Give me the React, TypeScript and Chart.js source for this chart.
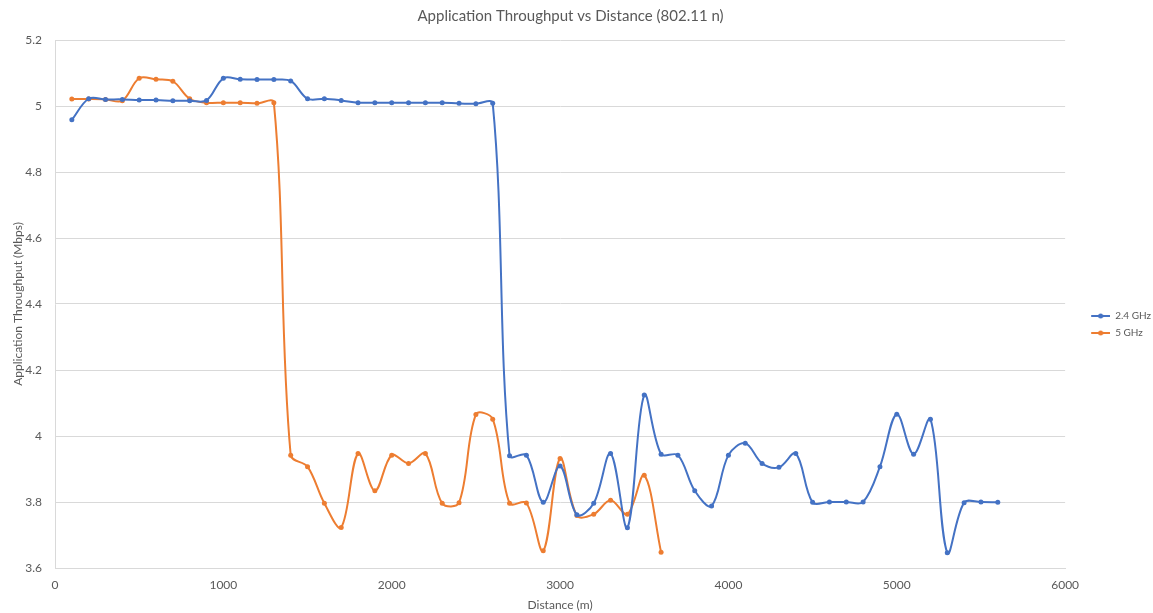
import { useEffect, useRef } from "react";
import { Chart, registerables } from "chart.js";

Chart.register(...registerables);

const chartTitle = "Application Throughput vs Distance (802.11 n)";
const xAxisTitle = "Distance (m)";
const yAxisTitle = "Application Throughput (Mbps)";
const seriesNames = ["2.4 GHz", "5 GHz"];
const seriesColors = ["#4472C4", "#ED7D31"];

const distance24 = [
  100, 200, 300, 400, 500, 600, 700, 800, 900, 1000,
  1100, 1200, 1300, 1400, 1500, 1600, 1700, 1800, 1900, 2000,
  2100, 2200, 2300, 2400, 2500, 2600, 2700, 2800, 2900, 3000,
  3100, 3200, 3300, 3400, 3500, 3600, 3700, 3800, 3900, 4000,
  4100, 4200, 4300, 4400, 4500, 4600, 4700, 4800, 4900, 5000,
  5100, 5200, 5300, 5400, 5500, 5600,
];
const throughput24 = [
  4.958, 5.022, 5.02, 5.02, 5.018, 5.018, 5.016, 5.016, 5.017, 5.084,
  5.081, 5.08, 5.08, 5.076, 5.022, 5.022, 5.017, 5.01, 5.01, 5.01,
  5.01, 5.01, 5.01, 5.008, 5.007, 5.008, 3.94, 3.942, 3.799, 3.909,
  3.761, 3.796, 3.947, 3.722, 4.124, 3.945, 3.942, 3.834, 3.788, 3.942,
  3.978, 3.917, 3.905, 3.947, 3.799, 3.8, 3.8, 3.8, 3.907, 4.066,
  3.945, 4.051, 3.646, 3.798, 3.8, 3.799,
];

const distance5 = [
  100, 200, 300, 400, 500, 600, 700, 800, 900, 1000,
  1100, 1200, 1300, 1400, 1500, 1600, 1700, 1800, 1900, 2000,
  2100, 2200, 2300, 2400, 2500, 2600, 2700, 2800, 2900, 3000,
  3100, 3200, 3300, 3400, 3500, 3600,
];
const throughput5 = [
  5.021, 5.021, 5.02, 5.016, 5.084, 5.081, 5.075, 5.022, 5.01, 5.01,
  5.01, 5.008, 5.01, 3.942, 3.907, 3.796, 3.723, 3.947, 3.834, 3.942,
  3.917, 3.947, 3.796, 3.798, 4.065, 4.051, 3.796, 3.797, 3.652, 3.932,
  3.759, 3.763, 3.805, 3.763, 3.881, 3.648,
];

const xMin = 0;
const xMax = 6000;
const xStep = 1000;
const yMin = 3.6;
const yMax = 5.2;
const yStep = 0.2;

const textColor = "#595959";
const gridColor = "#d9d9d9";
const fontFamily = "Lato, 'Open Sans', sans-serif";

function legendMarker(color: string): HTMLCanvasElement {
  const c = document.createElement("canvas");
  c.width = 38;
  c.height = 8;
  const ctx = c.getContext("2d")!;
  ctx.strokeStyle = color;
  ctx.lineWidth = 2;
  ctx.beginPath();
  ctx.moveTo(19, 4);
  ctx.lineTo(38, 4);
  ctx.stroke();
  ctx.fillStyle = color;
  ctx.beginPath();
  ctx.arc(28.5, 4, 2.5, 0, Math.PI * 2);
  ctx.fill();
  return c;
}

export default function App() {
  const canvasRef = useRef<HTMLCanvasElement | null>(null);

  useEffect(() => {
    document.body.style.margin = "0";
    const canvas = canvasRef.current;
    if (!canvas) return;
    const markers = seriesColors.map((c) => legendMarker(c));

    const makeSeries = (xs: number[], ys: number[]) =>
      xs.map((x, i) => ({ x, y: ys[i] }));

    const chart = new Chart(canvas, {
      type: "line",
      data: {
        datasets: [
          {
            label: seriesNames[0],
            data: makeSeries(distance24, throughput24),
            borderColor: seriesColors[0],
            backgroundColor: seriesColors[0],
            borderWidth: 2,
            pointRadius: 2.5,
            pointBorderWidth: 0,
            pointStyle: "circle",
            tension: 0.35,
            fill: false,
          },
          {
            label: seriesNames[1],
            data: makeSeries(distance5, throughput5),
            borderColor: seriesColors[1],
            backgroundColor: seriesColors[1],
            borderWidth: 2,
            pointRadius: 2.5,
            pointBorderWidth: 0,
            pointStyle: "circle",
            tension: 0.35,
            fill: false,
          },
        ],
      },
      options: {
        responsive: false,
        animation: false,
        layout: { padding: { left: -20, right: -8, top: 0, bottom: 0 } },
        plugins: {
          title: {
            display: true,
            text: chartTitle,
            color: textColor,
            font: { family: fontFamily, size: 15, weight: "normal" },
            padding: { top: 7, bottom: 15 },
          },
          legend: {
            display: true,
            position: "right",
            align: "center",
            title: {
              display: true,
              text: " ",
              color: "rgba(0,0,0,0)",
              font: { family: fontFamily, size: 10 },
              padding: { top: 24, bottom: 0 },
            },
            labels: {
              color: textColor,
              font: { family: fontFamily, size: 10 },
              usePointStyle: true,
              pointStyleWidth: 38,
              padding: 7,
              generateLabels: (ch: any) =>
                ch.data.datasets.map((ds: any, i: number) => ({
                  text: ds.label,
                  fontColor: textColor,
                  pointStyle: markers[i],
                  fillStyle: seriesColors[i],
                  strokeStyle: seriesColors[i],
                  lineWidth: 0,
                  hidden: false,
                  datasetIndex: i,
                })),
            },
          },
          tooltip: { enabled: false },
        },
        scales: {
          x: {
            type: "linear",
            min: xMin,
            max: xMax,
            afterFit: (scale: any) => {
              scale.height = 45;
            },
            ticks: {
              stepSize: xStep,
              color: textColor,
              padding: 10,
              maxRotation: 0,
              font: { family: fontFamily, size: 12 },
              callback: (v: any) => String(v),
            },
            grid: { display: false, drawTicks: false },
            border: { display: true, color: gridColor, width: 1 },
            title: {
              display: true,
              text: xAxisTitle,
              color: textColor,
              font: { family: fontFamily, size: 12 },
              padding: { top: 0, bottom: 1 },
            },
          },
          y: {
            type: "linear",
            min: yMin,
            max: yMax,
            afterFit: (scale: any) => {
              scale.width = 75;
            },
            ticks: {
              stepSize: yStep,
              color: textColor,
              padding: 13,
              font: { family: fontFamily, size: 12 },
              callback: (v: any) => String(Math.round(Number(v) * 10) / 10),
            },
            grid: { display: true, color: gridColor, lineWidth: 1, drawTicks: false },
            border: { display: true, color: gridColor, width: 1 },
            title: {
              display: true,
              text: yAxisTitle,
              color: textColor,
              font: { family: fontFamily, size: 12 },
              padding: { top: 31, bottom: 0 },
            },
          },
        },
      },
    });

    return () => {
      chart.destroy();
    };
  }, []);

  return (
    <div style={{ position: "absolute", left: 0, top: 0, width: 1153, height: 613 }}>
      <canvas ref={canvasRef} width={1153} height={613} style={{ display: "block" }} />
    </div>
  );
}
